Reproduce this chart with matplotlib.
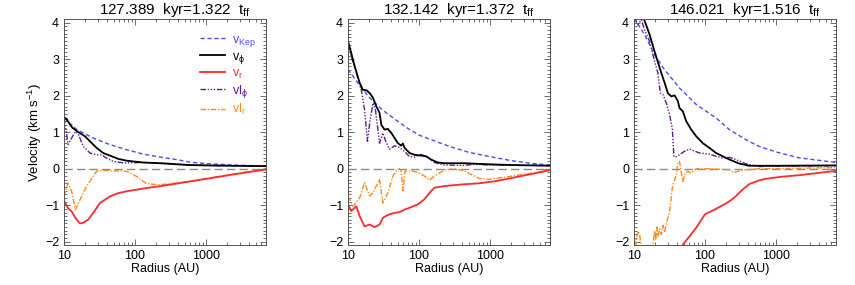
import matplotlib
matplotlib.use("Agg")
import matplotlib.pyplot as plt
from matplotlib.lines import Line2D
from matplotlib.ticker import FixedLocator, LogLocator, NullFormatter, MultipleLocator

plt.rcParams['font.family'] = ['Liberation Sans', 'DejaVu Sans']
plt.rcParams['mathtext.fontset'] = 'custom'
plt.rcParams['mathtext.rm'] = 'Liberation Sans'
plt.rcParams['mathtext.it'] = 'Liberation Sans'

titles = ["127.389  kyr=1.322  t$_{\\rm ff}$",
          "132.142  kyr=1.372  t$_{\\rm ff}$",
          "146.021  kyr=1.516  t$_{\\rm ff}$"]
legend_labels = ["v$_{\\rm Kep}$", "v$_{\\phi}$", "v$_{\\rm r}$", "vl$_{\\phi}$", "vl$_{\\rm r}$"]
x_ticks = [10, 100, 1000]
y_ticks = [-2, -1, 0, 1, 2, 3, 4]

# ---------------- Panel 1 ----------------
p1_r_kep = [10, 15.1, 25.8, 44.2, 76, 130, 222, 383, 587, 1000, 2370, 7000]
p1_v_kep = [1.39, 1.07, 0.84, 0.66, 0.52, 0.40, 0.32, 0.25, 0.18, 0.14, 0.10, 0.07]
p1_r_phi = [10, 10.8, 12.1, 13.2, 15.4, 19.7, 23.2, 28.8, 35.6, 44.2, 57.8, 76, 128, 222, 587, 1000, 2370, 7000]
p1_v_phi = [1.40, 1.37, 1.21, 1.12, 1.02, 0.89, 0.75, 0.57, 0.43, 0.36, 0.27, 0.22, 0.17, 0.15, 0.10, 0.09, 0.08, 0.07]
p1_r_r = [10, 11.4, 12.8, 14.5, 16.8, 18.7, 22, 25.8, 32.2, 44.2, 57.8, 76, 145, 222, 383, 587, 1000, 2370, 7000]
p1_v_r = [-0.89, -1.08, -1.17, -1.35, -1.50, -1.48, -1.39, -1.21, -0.94, -0.76, -0.67, -0.62, -0.53, -0.48, -0.41, -0.35, -0.28, -0.16, -0.02]
p1_r_iphi = [10, 10.6, 11.4, 12.8, 14.5, 15.9, 18.7, 23.2, 28.8, 33.8, 39.7, 49.3, 68, 128, 222, 587, 1000, 7000]
p1_v_iphi = [1.39, 1.10, 0.66, 0.84, 1.02, 0.95, 0.61, 0.43, 0.38, 0.38, 0.29, 0.20, 0.16, 0.17, 0.16, 0.10, 0.09, 0.07]
p1_r_ir = [10, 11.4, 12.8, 14.5, 16.8, 20.8, 25.8, 28.8, 35.6, 76, 105, 145, 222, 383, 587, 1000, 2370, 7000]
p1_v_ir = [-0.76, -0.39, -0.62, -1.12, -0.85, -0.48, -0.21, -0.07, -0.05, -0.07, -0.21, -0.41, -0.44, -0.39, -0.35, -0.27, -0.15, 0.0]

# ---------------- Panel 2 ----------------
p2_r_kep = [10, 15, 20, 30, 50, 70, 100, 200, 300, 500, 1000, 2000, 4000, 7000]
p2_v_kep = [2.72, 2.25, 1.95, 1.62, 1.30, 1.10, 0.92, 0.70, 0.58, 0.45, 0.33, 0.22, 0.14, 0.10]
p2_r_phi = [10, 11.1, 12.4, 14.6, 16.2, 18.1, 20.2, 22.5, 25, 27.8, 29.5, 32.8, 36.5, 40.7, 45.3, 50.4, 56.2, 59.3, 62.6, 73.6, 86.5, 107, 126, 148, 184, 228, 434, 1000, 2000, 7000]
p2_v_phi = [3.49, 3.17, 2.81, 2.35, 2.16, 2.15, 2.07, 1.94, 1.71, 1.53, 1.20, 1.07, 1.09, 0.98, 0.84, 0.70, 0.63, 0.69, 0.57, 0.43, 0.38, 0.36, 0.34, 0.25, 0.17, 0.15, 0.15, 0.12, 0.10, 0.08]
p2_r_r = [10, 11.1, 13.1, 14.6, 17.1, 20.2, 23.7, 27.8, 31, 33.8, 38.5, 45.3, 53.2, 62.6, 73.6, 96, 119, 141, 165, 240, 413, 705, 1210, 2070, 3540, 7000]
p2_v_r = [-0.98, -1.16, -1.03, -1.30, -1.58, -1.53, -1.60, -1.53, -1.35, -1.30, -1.25, -1.21, -1.19, -1.12, -1.07, -0.98, -0.84, -0.66, -0.52, -0.47, -0.43, -0.40, -0.34, -0.25, -0.16, -0.04]
p2_r_iphi = [10, 11.1, 13.1, 15.4, 17.1, 18.8, 20.2, 22.5, 24.3, 26.4, 27.8, 31, 34, 38.5, 45.3, 53.2, 62.6, 73.6, 86.5, 107, 133, 165, 228, 434, 600, 1000, 7000]
p2_v_iphi = [3.49, 3.08, 2.63, 2.16, 1.62, 0.75, 1.25, 1.80, 1.62, 1.07, 0.70, 0.98, 0.75, 0.53, 0.63, 0.58, 0.47, 0.33, 0.32, 0.39, 0.32, 0.17, 0.10, 0.09, 0.12, 0.10, 0.09]
p2_r_ir = [10, 11.8, 14.6, 17.1, 20.2, 22.5, 27.8, 31, 36.5, 43, 48, 53.2, 56.2, 59.3, 64, 77, 96, 119, 141, 165, 228, 314, 434, 705, 980, 2070, 4970, 7000]
p2_v_ir = [-0.75, -1.03, -0.80, -0.38, -0.75, -0.66, -0.29, -0.94, -0.66, -0.20, -0.06, 0.0, -0.06, -0.61, -0.06, -0.06, -0.10, -0.20, -0.31, -0.20, -0.04, 0.0, -0.06, -0.27, -0.29, -0.20, -0.09, -0.02]

# ---------------- Panel 3 ----------------
p3_r_kep = [10, 14.1, 19.5, 27, 43.8, 75, 143, 221, 379, 580, 1000, 2080, 7000]
p3_v_kep = [4.13, 3.67, 3.12, 2.71, 2.21, 1.76, 1.39, 1.07, 0.79, 0.61, 0.46, 0.30, 0.17]
p3_r_phi = [13.7, 16.6, 19.5, 23, 27, 30, 33.5, 37.3, 41.5, 43.8, 48.8, 54.4, 64, 75, 93, 115.5, 143, 178, 221, 304, 422, 580, 1000, 7000]
p3_v_phi = [4.12, 3.67, 3.21, 2.76, 2.35, 2.07, 1.98, 2.01, 1.85, 1.66, 1.57, 1.30, 1.07, 0.89, 0.70, 0.57, 0.43, 0.34, 0.25, 0.14, 0.08, 0.08, 0.08, 0.09]
p3_r_r = [45, 48.8, 60.6, 75, 100, 143, 198, 237, 273, 339, 422, 580, 700, 1200, 2080, 7000]
p3_v_r = [-2.25, -2.08, -1.85, -1.62, -1.25, -1.10, -0.95, -0.85, -0.75, -0.57, -0.42, -0.32, -0.28, -0.22, -0.18, -0.06]
p3_r_iphi = [10, 11.4, 12.7, 14.1, 16.6, 19.5, 21.7, 23.5, 25.6, 28.5, 31.7, 34.6, 36.5, 39.4, 43.8, 51.5, 60.6, 67.5, 83.6, 115.5, 143, 178, 221, 273, 379, 580, 1000, 7000]
p3_v_iphi = [4.13, 3.95, 4.08, 3.80, 3.49, 2.94, 2.62, 2.07, 2.03, 1.80, 1.48, 1.11, 0.33, 0.33, 0.38, 0.48, 0.54, 0.50, 0.43, 0.40, 0.34, 0.29, 0.31, 0.25, 0.13, 0.06, 0.07, 0.08]
p3_r_ir = [10, 10.6, 11.4, 12.0, 12.7, 14.1, 16.6, 18.5, 19.5, 20.2, 21.0, 21.7, 23, 24.3, 25.6, 27, 28.5, 30, 31.7, 34.6, 39.4, 41.5, 43.8, 46, 48.8, 51.5, 57, 64, 75, 115, 221, 250, 379, 580, 1000, 7000]
p3_v_ir = [-1.71, -2.07, -1.71, -1.80, -2.2, -2.4, -2.3, -2.1, -1.70, -1.95, -1.60, -1.85, -1.65, -1.80, -1.55, -1.75, -1.50, -1.35, -1.17, -0.53, -0.16, 0.16, 0.20, -0.07, -0.35, -0.16, -0.07, -0.12, 0.0, 0.0, -0.03, -0.10, -0.03, 0.0, 0.0, 0.03]

panels = [
    (p1_r_kep, p1_v_kep, p1_r_phi, p1_v_phi, p1_r_r, p1_v_r, p1_r_iphi, p1_v_iphi, p1_r_ir, p1_v_ir),
    (p2_r_kep, p2_v_kep, p2_r_phi, p2_v_phi, p2_r_r, p2_v_r, p2_r_iphi, p2_v_iphi, p2_r_ir, p2_v_ir),
    (p3_r_kep, p3_v_kep, p3_r_phi, p3_v_phi, p3_r_r, p3_v_r, p3_r_iphi, p3_v_iphi, p3_r_ir, p3_v_ir),
]

c_kep = '#4a4aff'
c_phi = '#000000'
c_r = '#ff2a2a'
c_iphi = '#5e1a8e'
c_ir = '#ff8a1a'

st_kep = dict(color=c_kep, lw=1.0, linestyle=(0, (3, 2)))
st_phi = dict(color=c_phi, lw=1.3, linestyle='-')
st_r = dict(color=c_r, lw=1.3, linestyle='-')
st_iphi = dict(color=c_iphi, lw=1.0, linestyle=(0, (4, 1.2, 1, 1.2, 1, 1.2, 1, 1.2)))
st_ir = dict(color=c_ir, lw=1.0, linestyle=(0, (4, 1.2, 1, 1.2)))

fig = plt.figure(figsize=(8.55, 2.85), dpi=100)
lefts = [64 / 855, 348 / 855, 634 / 855]
width = 202 / 855
bottom = 1 - 245 / 285
height = 226 / 285

for i, (left, data) in enumerate(zip(lefts, panels)):
    ax = fig.add_axes([left, bottom, width, height])
    rk, vk, rp, vp, rr, vr, rip, vip, rir, vir = data
    ax.axhline(0, color='#8a8a8a', lw=1.0, linestyle=(0, (6, 3)))
    ax.plot(rir, vir, **st_ir)
    ax.plot(rr, vr, **st_r)
    ax.plot(rk, vk, **st_kep)
    ax.plot(rip, vip, **st_iphi)
    ax.plot(rp, vp, **st_phi)
    ax.set_xscale('log')
    ax.set_xlim(10, 7000)
    ax.set_ylim(-2.09, 4.10)
    ax.xaxis.set_major_locator(FixedLocator(x_ticks))
    ax.set_xticklabels([str(t) for t in x_ticks])
    ax.xaxis.set_minor_locator(LogLocator(base=10, subs=range(2, 10)))
    ax.xaxis.set_minor_formatter(NullFormatter())
    ax.yaxis.set_major_locator(FixedLocator(y_ticks))
    ax.set_yticklabels([("\u2212%d" % -t) if t < 0 else str(t) for t in y_ticks])
    ax.yaxis.set_minor_locator(MultipleLocator(0.1))
    ax.tick_params(which='both', direction='in', top=True, right=True, labelsize=9,
                   color='#555555', width=0.6)
    ax.tick_params(which='major', length=4)
    ax.tick_params(which='minor', length=2)
    for s in ax.spines.values():
        s.set_linewidth(0.7)
        s.set_color('#555555')
    ax.set_xlabel("Radius (AU)", fontsize=9, labelpad=1)
    ax.set_title(titles[i], fontsize=11, pad=2, x=0.55)
    if i == 0:
        ax.set_ylabel("Velocity (km s$^{-1}$)", fontsize=9.5, labelpad=1)
        handles = [Line2D([], [], **st_kep), Line2D([], [], **st_phi), Line2D([], [], **st_r),
                   Line2D([], [], **st_iphi), Line2D([], [], **st_ir)]
        ax.legend(handles, legend_labels, loc='upper left', bbox_to_anchor=(0.62, 0.985),
                  frameon=False, fontsize=9, handlelength=2.0, labelspacing=0.16,
                  handletextpad=0.5, labelcolor=[c_kep, c_phi, c_r, c_iphi, c_ir])

fig.savefig("out.png", dpi=100)
